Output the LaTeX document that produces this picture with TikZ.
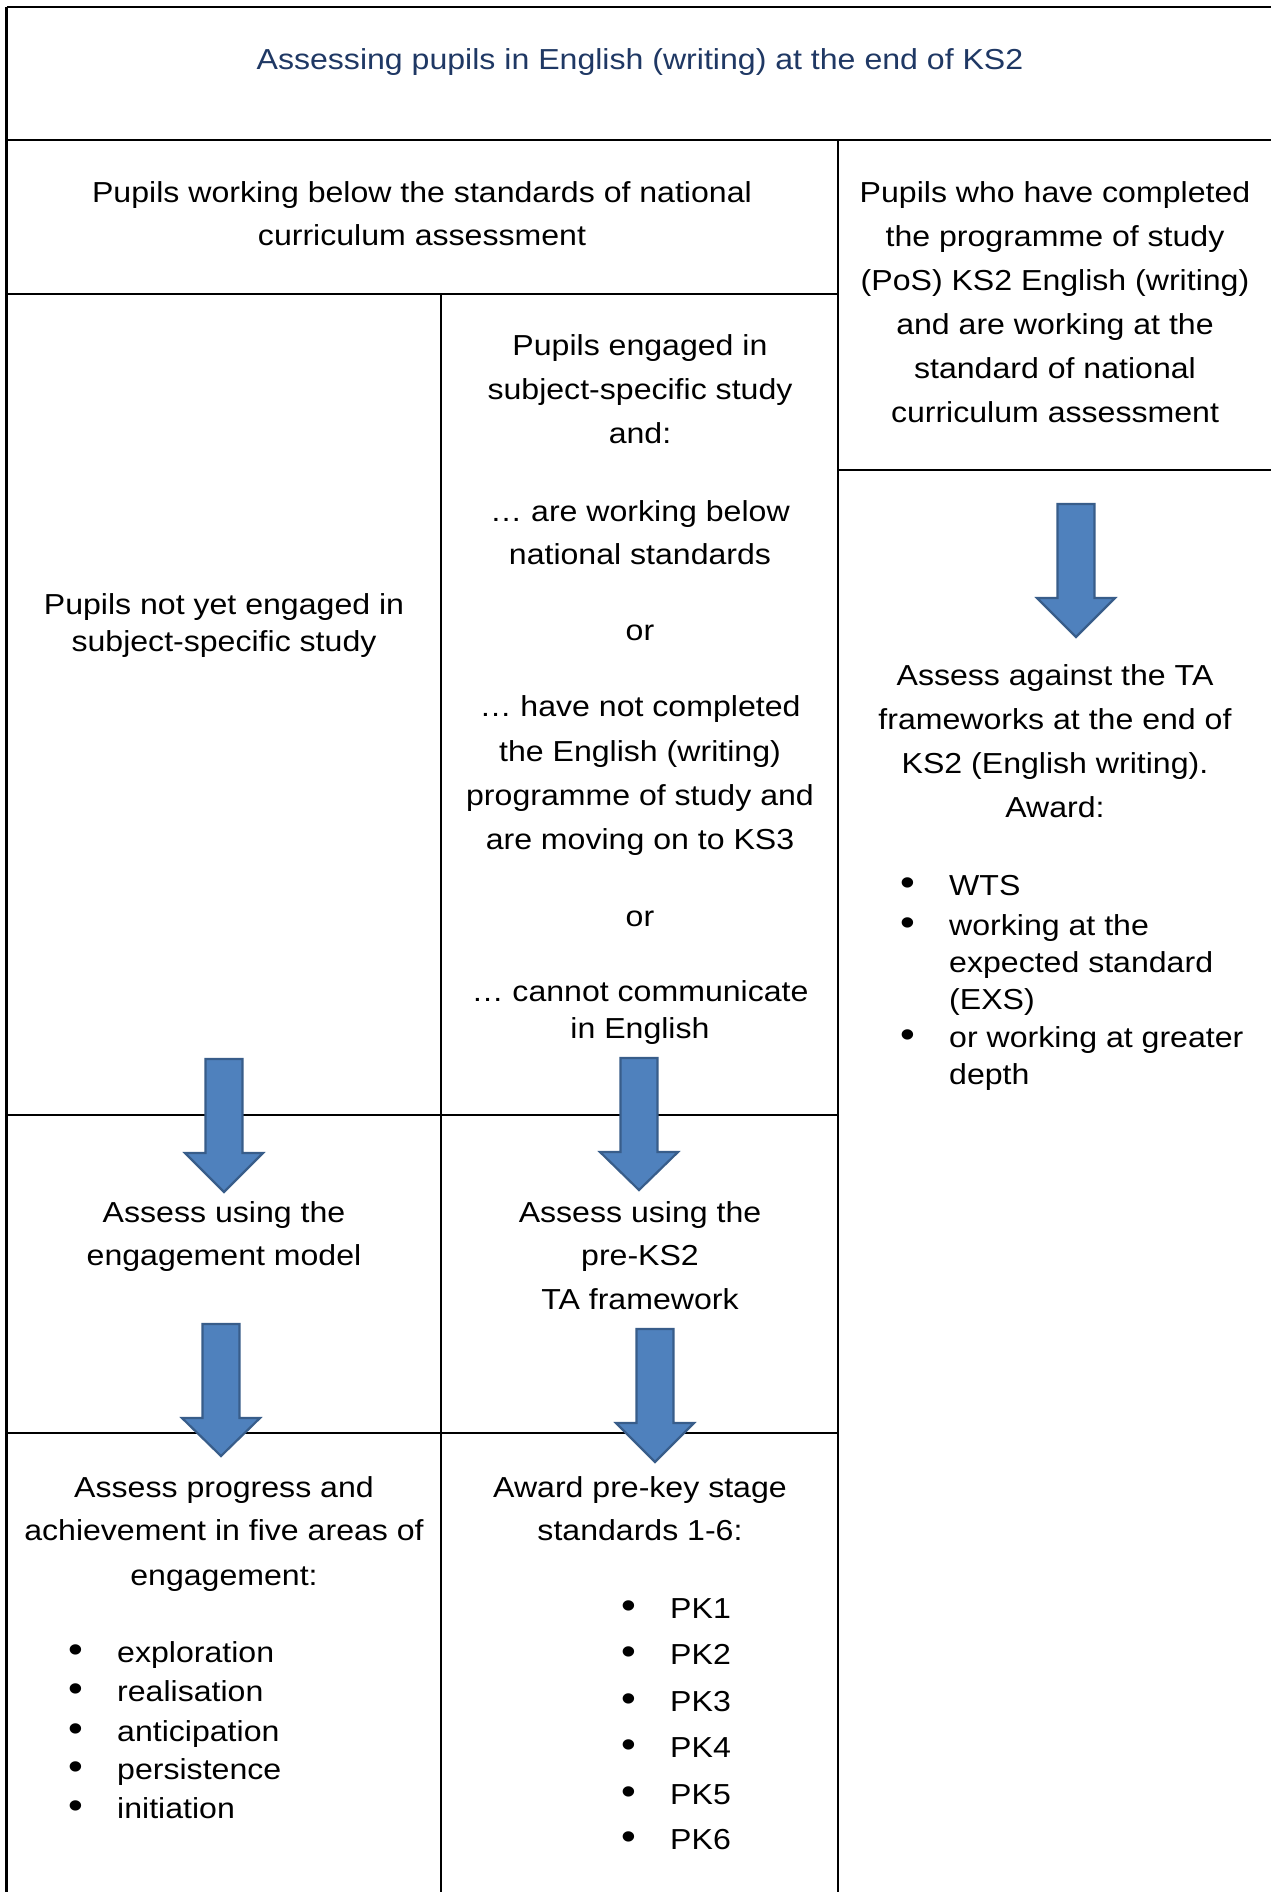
\documentclass[tikz,border=0pt]{standalone}
\usepackage{fontspec}
\setmainfont[FakeStretch=1.11]{Liberation Sans}
\definecolor{titleblue}{HTML}{1F3864}
\definecolor{arrowfill}{HTML}{4F81BD}
\definecolor{arrowedge}{HTML}{385D8A}
\newcommand{\downarrowshape}[4]{% cx, top, headstart, tip
  \draw[arrowstyle] (#1-18.5,#2) -- (#1+18.5,#2) -- (#1+18.5,#3) -- (#1+39,#3) -- (#1,#4) -- (#1-39,#3) -- (#1-18.5,#3) -- cycle;}
\begin{document}
\begin{tikzpicture}[x=1pt,y=-1pt,
  grid/.style={line width=2.2pt, black},
  arrowstyle/.style={fill=arrowfill, draw=arrowedge, line width=2.2pt, line join=miter},
  txt/.style={inner sep=0pt, anchor=mid, font=\fontsize{28.9}{34}\selectfont, yshift=-7pt},
  ttl/.style={txt, text=titleblue},
  bul/.style={inner sep=0pt, anchor=mid, font=\fontsize{38}{40}\selectfont, yshift=-7pt}]
\useasboundingbox (0,0) rectangle (1271,1892);
\fill[white] (0,0) rectangle (1271,1892);
% table lines
\draw[grid] (6.5,7) -- (1275,7);
\draw[grid] (6.5,7) -- (6.5,1895);
\draw[grid] (6.5,140) -- (1275,140);
\draw[grid] (838,140) -- (838,1895);
\draw[grid] (6.5,294) -- (838,294);
\draw[grid] (441,294) -- (441,1895);
\draw[grid] (838,470) -- (1275,470);
\draw[grid] (6.5,1115) -- (838,1115);
\draw[grid] (6.5,1433) -- (838,1433);
% title
\node[ttl] (title) at (640,60) {Assessing pupils in English (writing) at the end of KS2};
% below standards header
\node[txt] (b1) at (422,193) {Pupils working below the standards of national};
\node[txt] (b2) at (422,236) {curriculum assessment};
% right column header
\node[txt] (r1) at (1055,193) {Pupils who have completed};
\node[txt] (r2) at (1055,237) {the programme of study};
\node[txt] (r3) at (1055,281) {(PoS) KS2 English (writing)};
\node[txt] (r4) at (1055,325) {and are working at the};
\node[txt] (r5) at (1055,369) {standard of national};
\node[txt] (r6) at (1055,413) {curriculum assessment};
% middle column
\node[txt] (m1) at (640,346) {Pupils engaged in};
\node[txt] (m2) at (640,390) {subject-specific study};
\node[txt] (m3) at (640,434) {and:};
\node[txt] (m4) at (640,512) {… are working below};
\node[txt] (m5) at (640,555) {national standards};
\node[txt] (m6) at (640,631) {or};
\node[txt] (m7) at (640,707) {… have not completed};
\node[txt] (m8) at (640,752) {the English (writing)};
\node[txt] (m9) at (640,796) {programme of study and};
\node[txt] (m10) at (640,840) {are moving on to KS3};
\node[txt] (m11) at (640,917) {or};
\node[txt] (m12) at (640,992) {… cannot communicate};
\node[txt] (m13) at (640,1029) {in English};
% left column
\node[txt] (l1) at (224,605) {Pupils not yet engaged in};
\node[txt] (l2) at (224,642) {subject-specific study};
% assess rows
\node[txt] (la1) at (224,1213) {Assess using the};
\node[txt] (la2) at (224,1256) {engagement model};
\node[txt] (ma1) at (640,1213) {Assess using the};
\node[txt] (ma2) at (640,1256) {pre-KS2};
\node[txt] (ma3) at (640,1300) {TA framework};
% right assess
\node[txt] (ra1) at (1055,676) {Assess against the TA};
\node[txt] (ra2) at (1055,720) {frameworks at the end of};
\node[txt] (ra3) at (1055,764) {KS2 (English writing).};
\node[txt] (ra4) at (1055,808) {Award:};
\node[bul] (rb1) at (908,886) {•};
\node[txt, anchor=mid west] (rt1) at (949,886) {WTS};
\node[bul] (rb2) at (908,926) {•};
\node[txt, anchor=mid west] (rt2) at (949,926) {working at the};
\node[txt, anchor=mid west] (rt3) at (949,963) {expected standard};
\node[txt, anchor=mid west] (rt4) at (949,1000) {(EXS)};
\node[bul] (rb3) at (908,1038) {•};
\node[txt, anchor=mid west] (rt5) at (949,1038) {or working at greater};
\node[txt, anchor=mid west] (rt6) at (949,1075) {depth};
% left bottom
\node[txt] (lp1) at (224,1488) {Assess progress and};
\node[txt] (lp2) at (224,1531) {achievement in five areas of};
\node[txt] (lp3) at (224,1576) {engagement:};
\node[bul] (lb1) at (76,1653) {•};
\node[txt, anchor=mid west] (lt1) at (117,1653) {exploration};
\node[bul] (lb2) at (76,1692) {•};
\node[txt, anchor=mid west] (lt2) at (117,1692) {realisation};
\node[bul] (lb3) at (76,1732) {•};
\node[txt, anchor=mid west] (lt3) at (117,1732) {anticipation};
\node[bul] (lb4) at (76,1770) {•};
\node[txt, anchor=mid west] (lt4) at (117,1770) {persistence};
\node[bul] (lb5) at (76,1809) {•};
\node[txt, anchor=mid west] (lt5) at (117,1809) {initiation};
% middle bottom
\node[txt] (mp1) at (640,1488) {Award pre-key stage};
\node[txt] (mp2) at (640,1531) {standards 1-6:};
\node[bul] (mb1) at (629,1609) {•};
\node[txt, anchor=mid west] (mt1) at (670,1609) {PK1};
\node[bul] (mb2) at (629,1655) {•};
\node[txt, anchor=mid west] (mt2) at (670,1655) {PK2};
\node[bul] (mb3) at (629,1702) {•};
\node[txt, anchor=mid west] (mt3) at (670,1702) {PK3};
\node[bul] (mb4) at (629,1748) {•};
\node[txt, anchor=mid west] (mt4) at (670,1748) {PK4};
\node[bul] (mb5) at (629,1795) {•};
\node[txt, anchor=mid west] (mt5) at (670,1795) {PK5};
\node[bul] (mb6) at (629,1840) {•};
\node[txt, anchor=mid west] (mt6) at (670,1840) {PK6};
% block arrows
\downarrowshape{1076}{504}{598}{637}
\downarrowshape{224}{1059}{1153}{1192}
\downarrowshape{639}{1058}{1152}{1190}
\downarrowshape{221}{1324}{1418}{1456}
\downarrowshape{655}{1329}{1423}{1462}
\end{tikzpicture}
\end{document}
